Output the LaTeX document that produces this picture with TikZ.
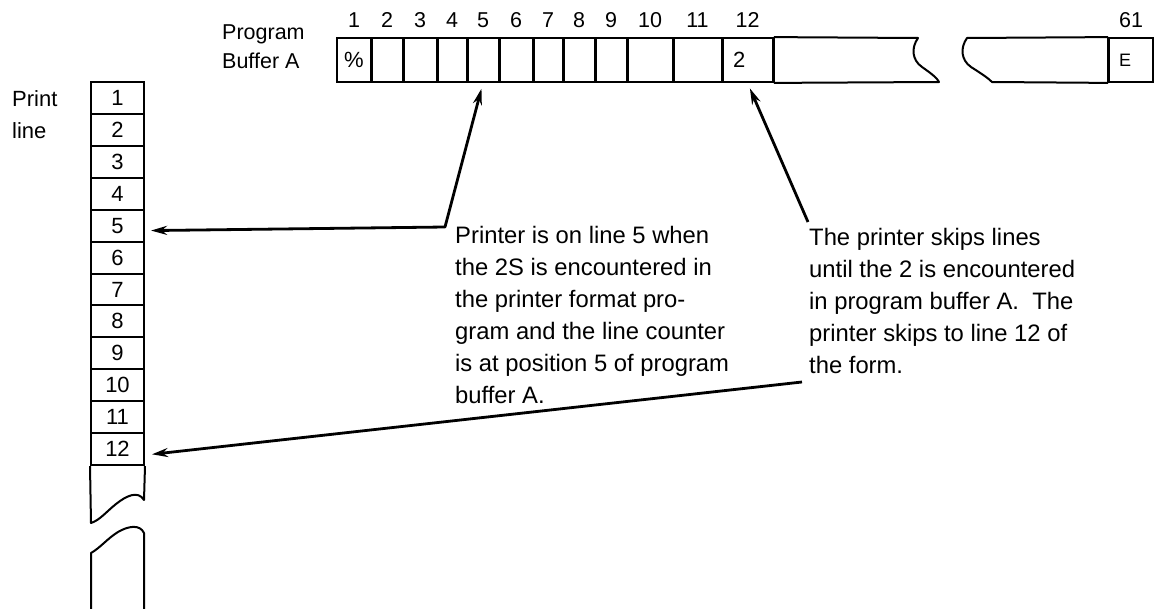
\documentclass[tikz,border=0pt]{standalone}
\usepackage{fontspec}
\setmainfont{Liberation Sans}
\usetikzlibrary{arrows.meta}
\begin{document}
\begin{tikzpicture}[x=1pt,y=-1pt,
  cell/.style={draw, line width=1.8pt, minimum height=44pt, inner sep=0pt, font=\fontsize{22}{24}\selectfont},
  leftcell/.style={cell, align=left, inner xsep=10pt},
  row/.style={draw, line width=2pt, minimum width=53pt, minimum height=31.92pt, inner sep=0pt, font=\fontsize{22}{24}\selectfont},
  num/.style={font=\fontsize{21.5}{24}\selectfont, inner sep=0pt, anchor=base},
  lbl/.style={font=\fontsize{22}{32}\selectfont, align=left, inner sep=0pt, anchor=north west},
  note/.style={font=\fontsize{23.8}{32}\selectfont, align=left, inner sep=0pt, anchor=north west},
  divider/.style={line width=3pt},
  arr/.style={line width=2.8pt, -{Stealth[length=16pt,width=9pt]}},
  brk/.style={line width=2pt, line join=round}]
\useasboundingbox (0,0) rectangle (1154,608);

% program buffer cells
\node[cell, minimum width=34pt] (b1) at (354,60) {\%};
\node[cell, minimum width=32pt] (b2) at (387,60) {};
\node[cell, minimum width=34pt] (b3) at (420,60) {};
\node[cell, minimum width=30pt] (b4) at (452,60) {};
\node[cell, minimum width=32pt] (b5) at (483,60) {};
\node[cell, minimum width=34pt] (b6) at (516,60) {};
\node[cell, minimum width=30pt] (b7) at (548,60) {};
\node[cell, minimum width=32pt] (b8) at (579,60) {};
\node[cell, minimum width=32pt] (b9) at (611,60) {};
\node[cell, minimum width=46pt] (b10) at (650,60) {};
\node[cell, minimum width=49pt] (b11) at (697.5,60) {};
\node[leftcell, minimum width=51pt, text width=29pt] (b12) at (747.5,60) {2};
\node[leftcell, minimum width=44pt, text width=24pt, font=\fontsize{18}{20}\selectfont] (bE) at (1131,60) {E};

% heavier vertical dividers
\foreach \k in {1,...,12} \draw[divider] (b\k.north east) -- (b\k.south east);
\draw[divider] (bE.north west) -- (bE.south west);

% numbers above
\foreach \k in {1,...,12} \node[num] at ([yshift=10pt]b\k.north) {\k};
\node[num] at ([yshift=10pt]bE.north) {61};

% broken buffer pieces
\draw[brk] (b12.north east) -- (918,38) .. controls (911,48) and (912,60) .. (922,67)
  .. controls (932,74) and (937,78) .. (939,82) -- (b12.south east);
\draw[brk] (bE.north west) -- (967,38) .. controls (960,48) and (961,60) .. (971,67)
  .. controls (982,74) and (988,78) .. (992,82) -- (bE.south west);

% print line column
\foreach \k in {1,...,12} \node[row] (r\k) at (117.5,{82+31.92*(\k-0.5)}) {\k};
\draw[brk] (r12.south west) -- (91,523) .. controls (100,520) and (106,512) .. (116,504)
  .. controls (126,496) and (138,490) .. (144,500) -- (r12.south east);
\draw[brk] (91,610) -- (91,553) .. controls (100,548) and (108,538) .. (118,532)
  .. controls (128,526) and (140,524) .. (144,533) -- (144,610);

% labels
\node[lbl, font=\fontsize{21.5}{29}\selectfont] (pb) at (222,25) {Program\\Buffer A};
\node[lbl] (pl) at (12,90) {Print\\line};

\node[note] (t1) at (455,226) {Printer is on line 5 when\\the 2S is encountered in\\the printer format pro-\\gram and the line counter\\is at position 5 of program\\buffer A.};
\node[note] (t2) at (809,228) {The printer skips lines\\until the 2 is encountered\\in program buffer A.\ \ The\\printer skips to line 12 of\\the form.};

% arrows
\coordinate (k5) at (445,227);
\coordinate (s2) at (808,222);
\coordinate (s3) at (802,382);
\draw[line width=2.8pt, line join=round, {Stealth[length=16pt,width=9pt]}-{Stealth[length=16pt,width=9pt]}, shorten <=6pt, shorten >=6pt]
  ([yshift=-5pt]r5.east) -- (k5) -- (b5.south);
\draw[arr, shorten >=6pt] (s2) -- (b12.south);
\draw[arr, shorten >=7pt] (s3) -- ([yshift=-6pt]r12.east);
\end{tikzpicture}
\end{document}
